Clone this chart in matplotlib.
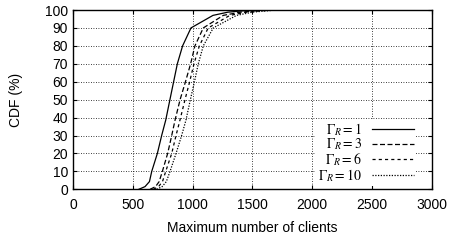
import matplotlib
matplotlib.use("Agg")
import matplotlib.pyplot as plt

# Data (Maximum number of clients vs CDF %)
cdf_levels = [0, 1.5, 4.3, 10, 20, 30, 38.6, 50, 60, 70, 80, 90, 97, 98.8, 100]
gamma1 = [550, 602, 639, 658, 705, 741, 775, 810, 841, 872, 916, 986, 1170, 1295, 1500]
gamma3 = [644, 690, 720, 747, 791, 825, 853, 895, 940, 983, 1019, 1089, 1256, 1400, 1600]
gamma6 = [672, 715, 748, 775, 825, 861, 894, 936, 975, 1011, 1056, 1130, 1311, 1450, 1650]
gamma10 = [700, 745, 780, 811, 861, 908, 944, 981, 1015, 1047, 1089, 1172, 1367, 1500, 1700]

labels = [r'$\Gamma_R = 1$', r'$\Gamma_R = 3$', r'$\Gamma_R = 6$', r'$\Gamma_R = 10$']
xticks = [0, 500, 1000, 1500, 2000, 2500, 3000]
yticks = list(range(0, 101, 10))

plt.rcParams['font.family'] = ['Liberation Sans', 'DejaVu Sans']
plt.rcParams['mathtext.fontset'] = 'stix'

fig = plt.figure(figsize=(4.49, 2.41), dpi=100)
ax = fig.add_axes([0.1626, 0.2145, 0.962 - 0.1626, 0.9585 - 0.2145])

series = [gamma1, gamma3, gamma6, gamma10]
styles = ['-', (0, (4, 2)), (0, (2.5, 2.5)), (0, (1, 1.2))]
for xs, ls, lab in zip(series, styles, labels):
    ax.plot(xs, cdf_levels, color='black', linestyle=ls, linewidth=0.9, label=lab)

ax.set_xlim(0, 3000)
ax.set_ylim(0, 100)
ax.set_xticks(xticks)
ax.set_yticks(yticks)
ax.tick_params(direction='in', length=3, width=0.8, top=True, right=True, labelsize=10)
ax.tick_params(axis='x', pad=6)
ax.grid(True, color='black', linestyle=(0, (1, 2)), linewidth=0.6)
for s in ax.spines.values():
    s.set_linewidth(1.0)

ax.set_xlabel('Maximum number of clients', fontsize=10, labelpad=7)
ax.set_ylabel('CDF (%)', fontsize=10, labelpad=16)

leg = ax.legend(loc='lower right', bbox_to_anchor=(0.955, 0.02), markerfirst=False,
                frameon=True, fontsize=10,
                handlelength=3.0, handletextpad=0.7, labelspacing=-0.08,
                borderpad=0.15, borderaxespad=0.0, fancybox=False)
leg.get_frame().set_edgecolor('none')
leg.get_frame().set_facecolor('white')
leg.get_frame().set_alpha(1.0)
for t in leg.get_texts():
    t.set_ha('right')

fig.savefig('out.png', dpi=100)
